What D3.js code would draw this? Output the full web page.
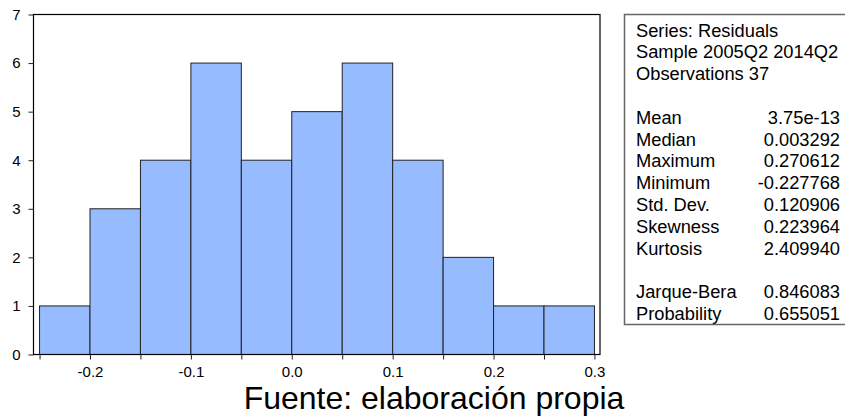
<!DOCTYPE html>
<meta charset="utf-8">
<title>Histogram of residuals</title>
<style>
    body { margin: 0; background: #fff; }
    text { font-family: Arial, "Liberation Sans", sans-serif; fill: #000; }
    .bars rect { fill: #96bcff; stroke: #222; stroke-width: 1; }
    .axis path, .axis line { stroke: #222; }
    .axis text { font-size: 15px; }
    .stats text { font-size: 18.3px; }
</style>

<svg width="845" height="419"></svg>

<script src="https://d3js.org/d3.v7.min.js"></script>
<script>

    // bin edges and counts
    var binStart = [-0.25, -0.2, -0.15, -0.1, -0.05, 0.0, 0.05, 0.1, 0.15, 0.2, 0.25];
    var binWidth = 0.05;
    var counts = [1, 3, 4, 6, 4, 5, 6, 4, 2, 1, 1];

    var xTicks = [-0.25, -0.2, -0.15, -0.1, -0.05, 0.0, 0.05, 0.1, 0.15, 0.2, 0.25, 0.3];
    var yTicks = [0, 1, 2, 3, 4, 5, 6, 7];

    var statHeader = ["Series: Residuals", "Sample 2005Q2 2014Q2", "Observations 37"];
    var statNames = ["Mean", "Median", "Maximum", "Minimum", "Std. Dev.", "Skewness", "Kurtosis", "", "Jarque-Bera", "Probability"];
    var statValues = ["3.75e-13", "0.003292", "0.270612", "-0.227768", "0.120906", "0.223964", "2.409940", "", "0.846083", "0.655051"];

    var source = "Fuente: elaboración propia";

    var svg = d3.select("svg");

    var plotL = 33.5, plotR = 600, plotT = 14.5, plotB = 354.5;

    var x = d3.scaleLinear().domain([-0.256, 0.3055]).range([plotL, plotR]);
    var y = d3.scaleLinear().domain([0, 7]).range([plotB, plotT]);

    // bars
    svg.append("g")
        .attr("class", "bars")
        .selectAll("rect")
        .data(binStart)
        .enter().append("rect")
        .attr("x", function (d) { return x(d); })
        .attr("width", function (d) { return x(d + binWidth) - x(d); })
        .attr("y", function (d, i) { return y(counts[i]); })
        .attr("height", function (d, i) { return y(0) - y(counts[i]); });

    // frame
    svg.append("rect")
        .attr("x", plotL).attr("y", plotT)
        .attr("width", plotR - plotL).attr("height", plotB - plotT)
        .attr("fill", "none")
        .attr("stroke", "#000")
        .attr("stroke-width", 1.2);

    var xAxis = svg.append("g")
        .attr("class", "axis")
        .attr("transform", "translate(0," + plotB + ")")
        .call(d3.axisBottom(x)
            .tickValues(xTicks)
            .tickSize(5)
            .tickPadding(7)
            .tickFormat(function (d) {
                var r = Math.round(d * 100);
                return r % 10 === 0 ? d.toFixed(1) : "";
            }));
    xAxis.select(".domain").remove();

    var yAxis = svg.append("g")
        .attr("class", "axis")
        .attr("transform", "translate(" + plotL + ",0)")
        .call(d3.axisLeft(y)
            .tickValues(yTicks)
            .tickSize(5)
            .tickPadding(8)
            .tickFormat(function (d) { return String(d); }));
    yAxis.select(".domain").remove();

    // statistics box
    var stats = svg.append("g").attr("class", "stats");
    stats.append("rect")
        .attr("x", 624.5).attr("y", 14.5)
        .attr("width", 240).attr("height", 310)
        .attr("fill", "#fff")
        .attr("stroke", "#666")
        .attr("stroke-width", 1.5);

    var lineH = 21.8, firstLine = 36.5;

    stats.selectAll("text.head")
        .data(statHeader)
        .enter().append("text")
        .attr("class", "head")
        .attr("x", 636)
        .attr("y", function (d, i) { return firstLine + i * lineH; })
        .text(function (d) { return d; });

    stats.selectAll("text.name")
        .data(statNames)
        .enter().append("text")
        .attr("class", "name")
        .attr("x", 636)
        .attr("y", function (d, i) { return firstLine + (i + 4) * lineH; })
        .text(function (d) { return d; });

    stats.selectAll("text.val")
        .data(statValues)
        .enter().append("text")
        .attr("class", "val")
        .attr("x", 840)
        .attr("text-anchor", "end")
        .attr("y", function (d, i) { return firstLine + (i + 4) * lineH; })
        .text(function (d) { return d; });

    // source note
    svg.append("text")
        .attr("x", 434)
        .attr("y", 409)
        .attr("text-anchor", "middle")
        .style("font-size", "32px")
        .text(source);

</script>
